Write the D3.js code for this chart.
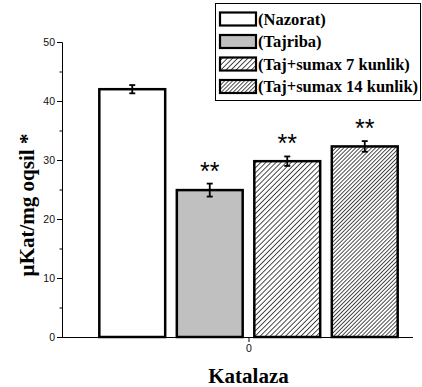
<!DOCTYPE html>
<html>
<head>
<meta charset="utf-8">
<script src="https://cdn.jsdelivr.net/npm/d3@7/dist/d3.min.js"></script>
<style>
  html, body { margin: 0; padding: 0; background: #fff; }
  svg { display: block; }
</style>
</head>
<body>
<svg id="chart" width="422" height="387"></svg>
<script>
// Catalase activity by group
const groups = ["(Nazorat)", "(Tajriba)", "(Taj+sumax 7 kunlik)", "(Taj+sumax 14 kunlik)"];
const means = [42.0, 24.9, 29.8, 32.3];
const errors = [0.7, 1.1, 0.8, 0.9];
const marks = ["", "**", "**", "**"];
const fills = ["#ffffff", "#c0c0c0", "url(#hatch7)", "url(#hatch14)"];
const yTicks = [0, 10, 20, 30, 40, 50];
const yMinorTicks = [5, 15, 25, 35, 45];
const xCategory = ["0"];

const svg = d3.select("#chart");
const defs = svg.append("defs");

function hatch(id, gap, width) {
  const p = defs.append("pattern")
    .attr("id", id)
    .attr("patternUnits", "userSpaceOnUse")
    .attr("width", gap).attr("height", gap)
    .attr("patternTransform", "rotate(45)");
  p.append("rect").attr("width", gap).attr("height", gap).attr("fill", "#fff");
  p.append("line").attr("x1", 0).attr("y1", 0).attr("x2", 0).attr("y2", gap)
    .attr("stroke", "#000").attr("stroke-width", width);
}
hatch("hatch7", 3.6, 1.4);
hatch("hatch14", 2.8, 1.4);

const plot = { left: 62, right: 413, top: 42, bottom: 337 };

const y = d3.scaleLinear().domain([0, 50]).range([plot.bottom, plot.top]);
const xInner = d3.scaleBand().domain(groups)
  .range([93.5, 403.5]).paddingInner(0.15).paddingOuter(0.075);

// Axes
const yAxis = d3.axisLeft(y).tickValues(yTicks).tickSize(5).tickPadding(2);
const gy = svg.append("g").attr("transform", `translate(${plot.left},0)`).call(yAxis);
gy.select(".domain").attr("stroke", "#000");
gy.selectAll(".tick line").attr("stroke", "#000");
gy.selectAll(".tick text").attr("font-family", "Liberation Sans, Arial, sans-serif")
  .attr("font-size", 10.5).attr("fill", "#111");

const yMinor = d3.axisLeft(y).tickValues(yMinorTicks).tickSize(2.5).tickFormat("");
const gym = svg.append("g").attr("transform", `translate(${plot.left},0)`).call(yMinor);
gym.select(".domain").remove();
gym.selectAll(".tick line").attr("stroke", "#000");

const xAxis = d3.axisBottom(d3.scalePoint().domain(xCategory).range([248.5, 248.5]))
  .tickSize(5).tickPadding(3);
const gx = svg.append("g").attr("transform", `translate(0,${plot.bottom})`).call(xAxis);
gx.select(".domain").remove();
gx.selectAll(".tick line").attr("stroke", "#000");
gx.selectAll(".tick text").attr("font-family", "Liberation Sans, Arial, sans-serif")
  .attr("font-size", 10.5).attr("fill", "#111");
svg.append("line")
  .attr("x1", plot.left).attr("x2", plot.right)
  .attr("y1", plot.bottom + 0.5).attr("y2", plot.bottom + 0.5)
  .attr("stroke", "#000");

// Bars
const bars = svg.append("g");
groups.forEach((g, i) => {
  bars.append("rect")
    .attr("x", xInner(g))
    .attr("y", y(means[i]))
    .attr("width", xInner.bandwidth())
    .attr("height", y(0) - y(means[i]))
    .attr("fill", fills[i])
    .attr("stroke", "#000")
    .attr("stroke-width", 2.5);
});

// Error bars
const eb = svg.append("g").attr("stroke", "#000").attr("stroke-width", 1.8);
groups.forEach((g, i) => {
  const cx = xInner(g) + xInner.bandwidth() / 2;
  const hi = y(means[i] + errors[i]), lo = y(means[i] - errors[i]);
  eb.append("line").attr("x1", cx).attr("x2", cx).attr("y1", hi).attr("y2", lo);
  eb.append("line").attr("x1", cx - 3).attr("x2", cx + 3).attr("y1", hi).attr("y2", hi);
  eb.append("line").attr("x1", cx - 3).attr("x2", cx + 3).attr("y1", lo).attr("y2", lo);
});

// Significance marks
groups.forEach((g, i) => {
  if (!marks[i]) return;
  const cx = xInner(g) + xInner.bandwidth() / 2;
  svg.append("text")
    .attr("x", cx)
    .attr("y", y(means[i] + errors[i]) - 4)
    .attr("text-anchor", "middle")
    .attr("font-family", "Liberation Sans, Arial, sans-serif")
    .attr("font-size", 25)
    .attr("fill", "#000")
    .text(marks[i]);
});

// Axis titles
svg.append("text")
  .attr("transform", `translate(34,205) rotate(-90)`)
  .attr("text-anchor", "middle")
  .attr("font-family", "Liberation Serif, 'Times New Roman', serif")
  .attr("font-weight", "bold")
  .attr("font-size", 21)
  .text("µKat/mg oqsil *");

svg.append("text")
  .attr("x", 248.5).attr("y", 383)
  .attr("text-anchor", "middle")
  .attr("font-family", "Liberation Serif, 'Times New Roman', serif")
  .attr("font-weight", "bold")
  .attr("font-size", 21)
  .text("Katalaza");

// Legend
const legend = svg.append("g");
legend.append("rect")
  .attr("x", 215.5).attr("y", 3.5).attr("width", 205).attr("height", 97)
  .attr("fill", "#fff").attr("stroke", "#000").attr("stroke-width", 1);
groups.forEach((g, i) => {
  const cy = 19 + i * 22.5;
  legend.append("rect")
    .attr("x", 220).attr("y", cy - 6.5).attr("width", 36).attr("height", 13)
    .attr("fill", fills[i]).attr("stroke", "#000").attr("stroke-width", 2.2);
  legend.append("text")
    .attr("x", 258).attr("y", cy + 5.5)
    .attr("font-family", "Liberation Serif, 'Times New Roman', serif")
    .attr("font-weight", "bold")
    .attr("font-size", 16.5)
    .text(g);
});
</script>
</body>
</html>
